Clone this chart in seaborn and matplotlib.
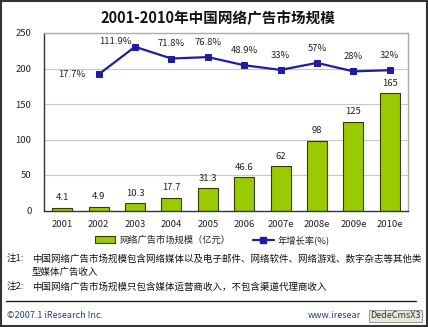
import numpy as np
import pandas as pd
import matplotlib
matplotlib.use("Agg")
import matplotlib.pyplot as plt
from matplotlib.patches import Patch, Rectangle
from matplotlib.lines import Line2D
import seaborn as sns

years = ["2001", "2002", "2003", "2004", "2005", "2006", "2007e", "2008e", "2009e", "2010e"]
market_size = [4.1, 4.9, 10.3, 17.7, 31.3, 46.6, 62, 98, 125, 165]
growth_years = years[1:]
growth_rate = [17.7, 111.9, 71.8, 76.8, 48.9, 33, 57, 28, 32]
growth_labels = ["17.7%", "111.9%", "71.8%", "76.8%", "48.9%", "33%", "57%", "28%", "32%"]
yticks = [0, 50, 100, 150, 200, 250]

title = "2001-2010年中国网络广告市场规模"
legend_bar = "网络广告市场规模（亿元）"
legend_line = "年增长率(%)"
note1a = "注1:"
note1b = "中国网络广告市场规模包含网络媒体以及电子邮件、网络软件、网络游戏、数字杂志等其他类"
note1c = "型媒体广告收入"
note2a = "注2:"
note2b = "中国网络广告市场规模只包含媒体运营商收入，不包含渠道代理商收入"
footer_left = "©2007.1 iResearch Inc."
footer_right = "www.iresear"
watermark = "DedeCmsX3"

sns.set_theme(style="white")
plt.rcParams['font.family'] = ['Noto Sans CJK SC', 'DejaVu Sans']

BAR = "#99cc00"
LINE = "#1e1ea0"

fig = plt.figure(figsize=(4.28, 3.27), dpi=100)
fig.patch.set_facecolor("white")
ax = fig.add_axes([44/428, 1-210.5/327, 364/428, 177.5/327])

df = pd.DataFrame({"year": years, "size": market_size})
sns.barplot(data=df, x="year", y="size", order=years, color=BAR, saturation=1,
            width=0.55, edgecolor="#3a3a00", linewidth=0.8, ax=ax)
ax.set_xlim(-0.5, len(years) - 0.5)
ax.set_ylim(0, 250)
ax.set_yticks(yticks)
ax.set_yticklabels([str(t) for t in yticks], fontsize=6.8, color="#222222")
ax.tick_params(axis="x", labelsize=6.8, colors="#222222", length=0, pad=7)
ax.tick_params(axis="y", length=0, pad=9)
ax.set_xlabel("")
ax.set_ylabel("")
for t in yticks[1:-1]:
    ax.axhline(t, color="#c8c8c8", linewidth=0.8, zorder=0)
for side in ["left", "bottom"]:
    ax.spines[side].set_color("#333333")
    ax.spines[side].set_linewidth(1.0)
for side in ["top", "right"]:
    ax.spines[side].set_color("#aaaaaa")
    ax.spines[side].set_linewidth(1.0)
ax.bar_label(ax.containers[0], labels=[f"{v:g}" for v in market_size],
             padding=4, fontsize=6.8, color="#222222")

ax2 = ax.twinx()
xpos = np.arange(len(years))[1:]
sns.lineplot(x=xpos, y=growth_rate, color=LINE, linewidth=1.6, marker="s",
             markersize=4, markeredgecolor=LINE, ax=ax2)
ax2.set_ylim(-447, 159)
ax2.set_yticks([])
for s in ax2.spines.values():
    s.set_visible(False)
for i, (x, v, lab) in enumerate(zip(xpos, growth_rate, growth_labels)):
    if i == 0:
        off = (-19, 0)
    elif i == 1:
        off = (-14, 3.5)
    else:
        off = (0, 10.5)
    ax2.annotate(lab, (x, v), xytext=off, textcoords="offset points",
                 ha="center", va="center", fontsize=6.8, color="#222222")

fig.text(218/428, 1-18/327, title, ha="center", va="center", fontsize=10.5,
         fontweight="bold", color="#111111")

handles = [Patch(facecolor=BAR, edgecolor="#3a3a00", linewidth=0.8),
           Line2D([0], [0], color=LINE, linewidth=1.6, marker="s", markersize=4)]
fig.legend(handles, [legend_bar, legend_line], loc="center",
           bbox_to_anchor=(212/428, 1-240/327), ncol=2, frameon=False,
           fontsize=6.7, handlelength=2.2, handleheight=0.8, columnspacing=2.5,
           handletextpad=0.4)

fs = 6.8
fig.text(7/428, 1-259/327, note1a, ha="left", va="center", fontsize=fs, color="#111111")
fig.text(32/428, 1-259/327, note1b, ha="left", va="center", fontsize=fs, color="#111111")
fig.text(32/428, 1-272/327, note1c, ha="left", va="center", fontsize=fs, color="#111111")
fig.text(7/428, 1-287/327, note2a, ha="left", va="center", fontsize=fs, color="#111111")
fig.text(32/428, 1-287/327, note2b, ha="left", va="center", fontsize=fs, color="#111111")
fig.add_artist(Line2D([6/428, 416/428], [1-301/327, 1-301/327], color="#222222",
                      linewidth=1.0, transform=fig.transFigure))
fig.text(7/428, 1-316/327, footer_left, ha="left", va="center", fontsize=6.5, color="#1f3f7f")
fig.text(308/428, 1-316/327, footer_right, ha="left", va="center", fontsize=6.5, color="#1f3f7f")
fig.text(421/428, 1-316/327, watermark, ha="right", va="center", fontsize=6.5, color="#333333",
         bbox=dict(boxstyle="square,pad=0.15", facecolor="#e8e8d8", edgecolor="#888888", linewidth=0.6))
fig.add_artist(Rectangle((0.002, 0.002), 0.996, 0.996, transform=fig.transFigure,
                         fill=False, edgecolor="#333333", linewidth=1.5))

fig.savefig("out.png", dpi=100)
